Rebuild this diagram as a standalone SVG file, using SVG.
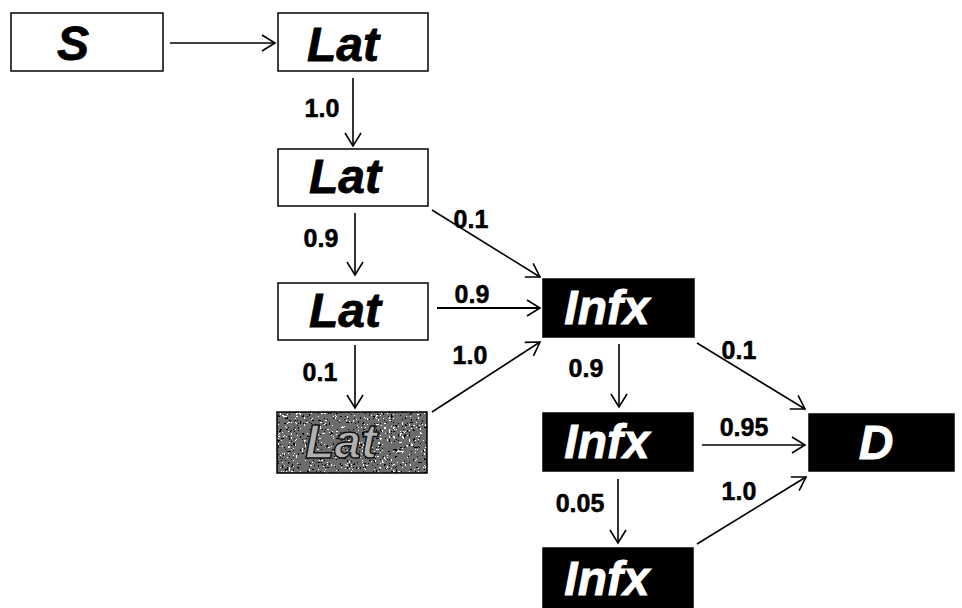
<svg xmlns="http://www.w3.org/2000/svg" width="962" height="608" viewBox="0 0 962 608">
<style>
.box{fill:#fff;stroke:#000;stroke-width:1.5}
.dark{fill:#000;stroke:#000;stroke-width:1.5}
.nt{font-family:"Liberation Sans",Arial,sans-serif;font-weight:bold;font-style:italic;font-size:48px;text-anchor:middle;fill:#000;stroke:#000;stroke-width:0.8}
.wt{fill:#fff;stroke:#fff}
.lbl{font-family:"Liberation Sans",Arial,sans-serif;font-weight:bold;font-size:25px;text-anchor:middle;fill:#000;stroke:#000;stroke-width:0.5}
.edge{stroke:#000;stroke-width:1.6;fill:none;marker-end:url(#arr)}
</style>
<defs>
<marker id="arr" markerUnits="userSpaceOnUse" markerWidth="16" markerHeight="20" refX="14" refY="9" orient="auto">
<path d="M1,1 L14,9 L1,17" fill="none" stroke="#000" stroke-width="1.6"/>
</marker>
<filter id="speckle" x="0" y="0" width="1" height="1">
<feTurbulence type="fractalNoise" baseFrequency="0.45" numOctaves="2" seed="5" result="t"/>
<feColorMatrix in="t" type="matrix" values="0.33 0.33 0.33 0 0 0.33 0.33 0.33 0 0 0.33 0.33 0.33 0 0 0 0 0 0 1" result="g"/>
<feComponentTransfer in="g" result="b">
<feFuncR type="discrete" tableValues="0 0 0.15 1 1"/>
<feFuncG type="discrete" tableValues="0 0 0.15 1 1"/>
<feFuncB type="discrete" tableValues="0 0 0.15 1 1"/>
</feComponentTransfer>
<feComposite in="b" in2="SourceGraphic" operator="in"/>
</filter>
</defs>
<g id="connectors">
<line class="edge" x1="170" y1="43" x2="275" y2="43"/>
<line class="edge" x1="353" y1="78" x2="353" y2="146"/>
<text class="lbl" x="322" y="117">1.0</text>
<line class="edge" x1="355" y1="213" x2="355" y2="275"/>
<text class="lbl" x="321" y="247">0.9</text>
<line class="edge" x1="432" y1="210" x2="540" y2="277"/>
<text class="lbl" x="471" y="228">0.1</text>
<line class="edge" x1="437" y1="308" x2="540" y2="308" style="stroke-width:2.2"/>
<text class="lbl" x="472" y="303">0.9</text>
<line class="edge" x1="355" y1="345" x2="355" y2="408"/>
<text class="lbl" x="320" y="381">0.1</text>
<line class="edge" x1="432" y1="412" x2="540" y2="342"/>
<text class="lbl" x="470" y="364">1.0</text>
<line class="edge" x1="619" y1="344" x2="619" y2="407"/>
<text class="lbl" x="586" y="377">0.9</text>
<line class="edge" x1="697" y1="343" x2="805" y2="409"/>
<text class="lbl" x="739" y="359">0.1</text>
<line class="edge" x1="702" y1="445" x2="805" y2="445"/>
<text class="lbl" x="744" y="436">0.95</text>
<line class="edge" x1="618" y1="479" x2="618" y2="543"/>
<text class="lbl" x="580" y="512">0.05</text>
<line class="edge" x1="697" y1="544" x2="806" y2="477"/>
<text class="lbl" x="739" y="500">1.0</text>
</g>
<g id="S">
<rect class="box" x="11" y="13" width="152" height="58"/>
<text class="nt" x="73" y="60">S</text>
</g>
<g id="Lat1">
<rect class="box" x="278" y="13" width="150" height="58"/>
<text class="nt" x="343" y="61">Lat</text>
</g>
<g id="Lat2">
<rect class="box" x="278" y="149" width="150" height="57"/>
<text class="nt" x="345" y="193">Lat</text>
</g>
<g id="Lat3">
<rect class="box" x="278" y="283" width="150" height="57"/>
<text class="nt" x="345" y="327">Lat</text>
</g>
<g id="LatGrey">
<rect x="277" y="412" width="150" height="61" fill="#000" filter="url(#speckle)"/>
<rect x="277" y="412" width="150" height="61" fill="none" stroke="#000" stroke-width="1.5"/>
<text class="nt" x="341" y="458" style="fill:#b0b0b0;stroke:#111;stroke-width:1.5">Lat</text>
</g>
<g id="Infx1">
<rect class="dark" x="543" y="279" width="151" height="58"/>
<text class="nt wt" x="607" y="324">Infx</text>
</g>
<g id="Infx2">
<rect class="dark" x="543" y="413" width="150" height="58"/>
<text class="nt wt" x="607" y="458">Infx</text>
</g>
<g id="Infx3">
<rect class="dark" x="543" y="548" width="150" height="62"/>
<text class="nt wt" x="607" y="595">Infx</text>
</g>
<g id="D">
<rect class="dark" x="809" y="414" width="145" height="57"/>
<text class="nt wt" x="876" y="459">D</text>
</g>
</svg>
